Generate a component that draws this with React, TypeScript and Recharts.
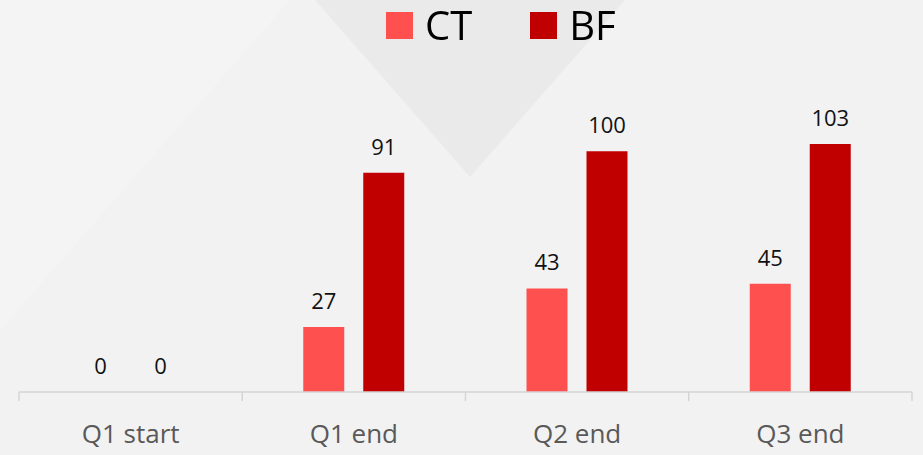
import React from "react";
import { BarChart, Bar, XAxis, YAxis, Legend, LabelList } from "recharts";

const categories = ["Q1 start", "Q1 end", "Q2 end", "Q3 end"];
const ctValues = [0, 27, 43, 45];
const bfValues = [0, 91, 100, 103];

const seriesNames = { ct: "CT", bf: "BF" };
const colors = { ct: "#ff5050", bf: "#c00000" };

const data = categories.map((name, i) => ({
  name,
  ct: ctValues[i],
  bf: bfValues[i],
}));

const W = 923;
const H = 455;
const margin = { top: 43, right: 11, bottom: 0, left: 19 };
const band = (W - margin.left - margin.right) / categories.length;
const font = "'Open Sans', 'Noto Sans', sans-serif";

const AxisTick = (props: any) => {
  const { x, y, payload, index } = props;
  const top = y - 8;
  const last = index === categories.length - 1;
  return (
    <g>
      <line x1={x - band / 2} x2={x - band / 2} y1={top} y2={top + 9} stroke="#d4d4d4" strokeWidth={1.5} />
      {last && (
        <line x1={x + band / 2} x2={x + band / 2} y1={top} y2={top + 9} stroke="#d4d4d4" strokeWidth={1.5} />
      )}
      <text x={x} y={top + 51} textAnchor="middle" fill="#595959" fontSize={26} fontFamily={font}>
        {payload.value}
      </text>
    </g>
  );
};

const LegendContent = () => (
  <div
    style={{
      display: "flex",
      justifyContent: "flex-start",
      paddingLeft: 386,
      paddingTop: 2,
      fontFamily: font,
      fontSize: 40,
      color: "#000",
    }}
  >
    {(["ct", "bf"] as const).map((k, i) => (
      <div key={k} style={{ display: "flex", alignItems: "center", marginLeft: i ? 58 : 0 }}>
        <span style={{ width: 27, height: 27, background: colors[k], display: "inline-block", marginRight: 12 }} />
        <span style={{ lineHeight: "46px" }}>{seriesNames[k]}</span>
      </div>
    ))}
  </div>
);

const Background = () => (
  <svg width={W} height={H} style={{ position: "absolute", left: 0, top: 0 }}>
    <rect width={W} height={H} fill="#f2f2f2" />
    <polygon points="0,0 290,0 0,330" fill="#f4f4f4" />
    <polygon points="315,0 625,0 470,177" fill="#eaeaea" />
  </svg>
);

export default function App() {
  return (
    <div style={{ position: "fixed", left: 0, top: 0, width: W, height: H }}>
      <Background />
      <div style={{ position: "absolute", left: 0, top: 0 }}>
        <BarChart width={W} height={H} data={data} margin={margin} barSize={41} barGap={19}>
          <Legend verticalAlign="top" height={60} content={<LegendContent />} wrapperStyle={{ top: 0, left: 0, width: W }} />
          <XAxis
            dataKey="name"
            axisLine={{ stroke: "#d4d4d4", strokeWidth: 1.5 }}
            tickLine={false}
            tick={<AxisTick />}
            height={63}
            interval={0}
          />
          <YAxis hide domain={[0, 120]} />
          <Bar dataKey="ct" name={seriesNames.ct} fill={colors.ct} minPointSize={0.01} isAnimationActive={false}>
            <LabelList dataKey="ct" position="top" offset={18} fill="#111" fontSize={22} fontFamily={font} />
          </Bar>
          <Bar dataKey="bf" name={seriesNames.bf} fill={colors.bf} minPointSize={0.01} isAnimationActive={false}>
            <LabelList dataKey="bf" position="top" offset={18} fill="#111" fontSize={22} fontFamily={font} />
          </Bar>
        </BarChart>
      </div>
    </div>
  );
}
